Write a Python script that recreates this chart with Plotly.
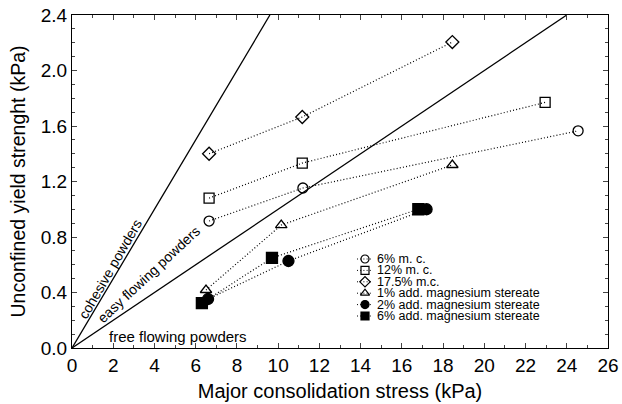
import plotly.graph_objects as go

# Series data (Major consolidation stress kPa, Unconfined yield strength kPa)
mc6_x = [6.65, 11.2, 24.55]
mc6_y = [0.915, 1.153, 1.565]
mc12_x = [6.65, 11.17, 22.95]
mc12_y = [1.08, 1.333, 1.77]
mc175_x = [6.65, 11.17, 18.45]
mc175_y = [1.40, 1.665, 2.205]
mg1_x = [6.5, 10.15, 18.45]
mg1_y = [0.418, 0.886, 1.319]
mg2_x = [6.6, 10.5, 17.2]
mg2_y = [0.353, 0.627, 1.0]
mg6_x = [6.3, 9.7, 16.8]
mg6_y = [0.324, 0.649, 1.0]

# flow function boundary lines (ffc = 4 and ffc = 10)
ffc4_x = [0, 9.6]
ffc4_y = [0, 2.4]
ffc10_x = [0, 24.0]
ffc10_y = [0, 2.4]

series_names = ["6% m. c.", "12% m. c.", "17.5% m.c.",
                "1% add. magnesium stereate", "2% add. magnesium stereate",
                "6% add. magnesium stereate"]
series_x = [mc6_x, mc12_x, mc175_x, mg1_x, mg2_x, mg6_x]
series_y = [mc6_y, mc12_y, mc175_y, mg1_y, mg2_y, mg6_y]
symbols = ["circle-open", "square-open", "diamond-open", "triangle-up-open", "circle", "square"]
sizes = [10, 10, 10, 10, 11, 11]

font = "Liberation Sans, Arial, sans-serif"
DOT = "1px,2.2px"

fig = go.Figure()
for xs, ys in [(ffc4_x, ffc4_y), (ffc10_x, ffc10_y)]:
    fig.add_trace(go.Scatter(x=xs, y=ys, mode="lines", line=dict(color="black", width=1.3),
                             showlegend=False, hoverinfo="skip"))

for name, xs, ys, sym, sz in zip(series_names, series_x, series_y, symbols, sizes):
    fig.add_trace(go.Scatter(
        x=xs, y=ys, name=name, mode="lines+markers", showlegend=False,
        line=dict(color="black", width=1.2, dash=DOT),
        marker=dict(symbol=sym, size=sz, color="black", line=dict(color="black", width=1.3)),
    ))

# Hand-built compact legend on an overlay axis measured in page pixels
leg_x0, leg_x1, leg_mx, leg_tx = 357, 373, 365, 375
leg_y0, leg_dy = 259, 11.4
for i, (name, sym) in enumerate(zip(series_names, symbols)):
    yy = leg_y0 + i * leg_dy
    fig.add_trace(go.Scatter(x=[leg_x0, leg_x1], y=[yy, yy], mode="lines",
                             line=dict(color="black", width=1, dash=DOT),
                             xaxis="x2", yaxis="y2", showlegend=False, hoverinfo="skip"))
    fig.add_trace(go.Scatter(x=[leg_mx], y=[yy], mode="markers",
                             marker=dict(symbol=sym, size=8, color="black",
                                         line=dict(color="black", width=1.2)),
                             xaxis="x2", yaxis="y2", showlegend=False, hoverinfo="skip"))
    fig.add_annotation(x=leg_tx, y=yy, xref="x2", yref="y2", text=name, showarrow=False,
                       xanchor="left", yanchor="middle", font=dict(size=12.5, family=font))

fig.update_layout(
    width=622, height=404,
    margin=dict(l=72, r=14, t=15, b=56),
    paper_bgcolor="white", plot_bgcolor="white",
    font=dict(family=font, color="black"),
    showlegend=False,
    xaxis=dict(range=[0, 26], dtick=2, tick0=0, ticks="inside", ticklen=5,
               showline=True, linecolor="black", linewidth=1.2, mirror="ticks",
               showgrid=False, zeroline=False, automargin=False, ticklabeloverflow="allow",
               tickfont=dict(size=19), title=dict(text="Major consolidation stress (kPa)",
                                                  font=dict(size=20), standoff=9),
               minor=dict(dtick=1, ticks="inside", ticklen=3, showgrid=False)),
    yaxis=dict(range=[0, 2.4], dtick=0.4, tick0=0, ticks="inside", ticklen=5,
               tickformat=".1f",
               showline=True, linecolor="black", linewidth=1.2, mirror="ticks",
               showgrid=False, zeroline=False, automargin=False, ticklabeloverflow="allow",
               tickfont=dict(size=19), title=dict(text="Unconfined yield strenght (kPa)",
                                                  font=dict(size=19.5), standoff=9),
               minor=dict(dtick=0.1, ticks="inside", ticklen=3, showgrid=False)),
    xaxis2=dict(range=[72, 608], overlaying="x", visible=False, fixedrange=True),
    yaxis2=dict(range=[348, 15], overlaying="y", visible=False, fixedrange=True),
)

fig.add_annotation(x=1.85, y=0.57, text="cohesive powders", showarrow=False,
                   textangle=-60, font=dict(size=14, family=font))
fig.add_annotation(x=3.75, y=0.53, text="easy flowing powders", showarrow=False,
                   textangle=-43, font=dict(size=14, family=font))
fig.add_annotation(x=5.15, y=0.086, text="free flowing powders", showarrow=False,
                   font=dict(size=15, family=font))

fig.write_html("out.html", config={"displayModeBar": False},
               post_script="document.body.style.margin='0';document.body.style.overflow='hidden';")
